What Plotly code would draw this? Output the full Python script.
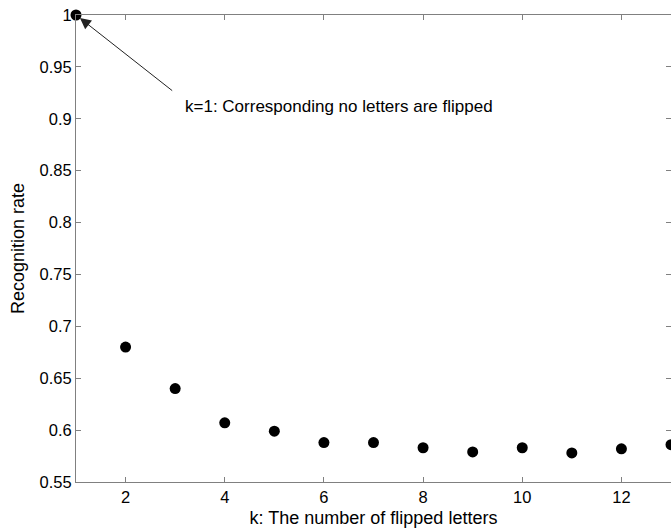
import plotly.graph_objects as go

k_values = [1, 2, 3, 4, 5, 6, 7, 8, 9, 10, 11, 12, 13]
recognition_rate = [1.0, 0.680, 0.640, 0.607, 0.599, 0.588, 0.588, 0.583, 0.579, 0.583, 0.578, 0.582, 0.586]
x_ticks = [2, 4, 6, 8, 10, 12]
y_ticks = [0.55, 0.6, 0.65, 0.7, 0.75, 0.8, 0.85, 0.9, 0.95, 1.0]
y_tick_text = ["0.55", "0.6", "0.65", "0.7", "0.75", "0.8", "0.85", "0.9", "0.95", "1"]

font_family = "Liberation Sans, Arial, Helvetica, sans-serif"

fig = go.Figure()
fig.add_trace(go.Scatter(
    x=k_values, y=recognition_rate, mode="markers",
    marker=dict(color="black", size=11),
    cliponaxis=False, showlegend=False,
))

axis_common = dict(
    showgrid=False, zeroline=False, showline=True, linecolor="#808080", linewidth=1,
    mirror="ticks", ticks="inside", ticklen=5, tickcolor="#808080",
    tickfont=dict(family=font_family, size=16.5, color="black"),
)

fig.update_xaxes(range=[1, 13], tickvals=x_ticks, **axis_common,
                 title=dict(text="k: The number of flipped letters",
                            font=dict(family=font_family, size=18, color="black"), standoff=6))
fig.update_yaxes(range=[0.55, 1.0], tickvals=y_ticks, ticktext=y_tick_text, **axis_common,
                 title=dict(text="Recognition rate",
                            font=dict(family=font_family, size=18, color="black"), standoff=10))

fig.add_annotation(x=1, y=1, ax=2.97, ay=0.926, axref="x", ayref="y", xref="x", yref="y",
                   text="", showarrow=True, arrowhead=2, arrowsize=2.2, arrowwidth=1,
                   arrowcolor="#222222", standoff=5)
fig.add_annotation(x=3.16, y=0.9115, xref="x", yref="y", xanchor="left", yanchor="middle",
                   text="k=1: Corresponding no letters are flipped", showarrow=False,
                   font=dict(family=font_family, size=17, color="black"))

fig.update_layout(
    width=671, height=531,
    margin=dict(l=76, r=0, t=15, b=49),
    paper_bgcolor="white", plot_bgcolor="white",
    font=dict(family=font_family),
)

fig.write_html("out.html")
